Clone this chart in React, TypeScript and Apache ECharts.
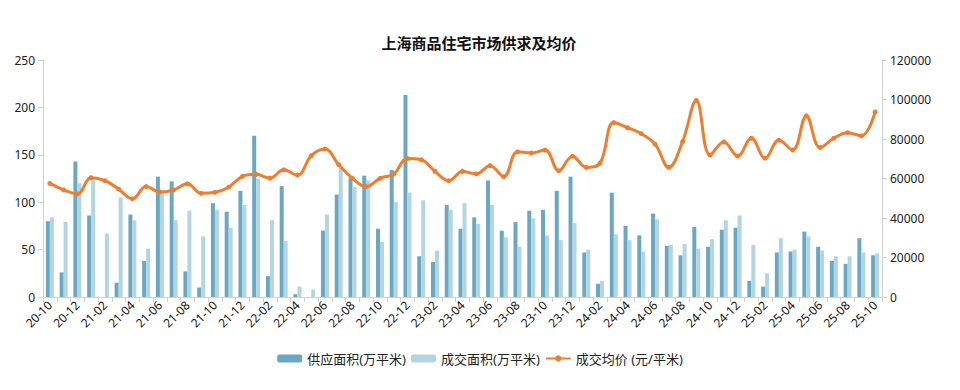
import React, { useEffect, useRef } from "react";
import * as echarts from "echarts";

const months: string[] = [];
for (let y = 20; y <= 25; y++) {
  for (let m = 1; m <= 12; m++) {
    if ((y === 20 && m < 10) || (y === 25 && m > 10)) continue;
    months.push(`${y}-${m < 10 ? "0" + m : m}`);
  }
}

const supply = [
  80, 26, 143, 86, 0, 15, 87, 38, 127, 122, 27, 10, 99, 90, 112, 170, 22, 117, 3, 0,
  70, 108, 126, 128, 72, 134, 213, 43, 37, 97, 72, 84, 123, 70, 79, 91, 92, 112, 127, 47,
  14, 110, 75, 65, 88, 54, 44, 74, 53, 71, 73, 17, 11, 47, 48, 69, 53, 38, 35, 62, 44,
];

const deal = [
  84, 79, 120, 123, 67, 105, 81, 51, 110, 81, 91, 64, 92, 73, 97, 125, 81, 59, 11, 8,
  87, 136, 116, 123, 58, 100, 110, 102, 49, 92, 99, 77, 97, 63, 53, 83, 65, 60, 78, 50,
  17, 66, 60, 48, 82, 55, 56, 51, 61, 81, 86, 55, 25, 62, 50, 64, 49, 43, 43, 47, 46,
];

const price = [
  57500, 54200, 52200, 60400, 58900, 54600, 49700, 55900, 53200, 54200, 57300, 52500, 53000, 55600, 61100, 62100, 60200, 64400, 61700, 71500,
  74900, 67000, 60100, 55900, 60100, 62300, 70100, 69500, 63600, 58900, 63600, 62300, 66500, 60900, 73500, 72900, 74400, 63900, 71300, 65600,
  67800, 88300, 85700, 82700, 77400, 65600, 78700, 99500, 71800, 78500, 71400, 80400, 70300, 79400, 74400, 91700, 75700, 80400, 83200, 81600, 93700,
];

const FONT = "'Noto Sans', 'Noto Sans CJK SC', sans-serif";

export default function App() {
  const ref = useRef<HTMLDivElement>(null);
  useEffect(() => {
    if (!ref.current) return;
    const chart = echarts.init(ref.current, null, { renderer: "svg" });
    const axisLine = { show: true, lineStyle: { color: "#d0d0d0" } };
    chart.setOption({
      animation: false,
      textStyle: { fontFamily: FONT },
      title: {
        text: "上海商品住宅市场供求及均价",
        left: 474,
        textAlign: "center",
        top: 30,
        textStyle: { fontSize: 15, fontWeight: "bold", color: "#111", fontFamily: FONT },
      },
      legend: {
        left: "center",
        top: 347,
        itemWidth: 25,
        itemHeight: 8,
        itemGap: 5,
        textStyle: { fontSize: 13, color: "#222", fontFamily: FONT },
        data: ["供应面积(万平米)", "成交面积(万平米)", "成交均价 (元/平米)"],
      },
      grid: { left: 43, right: 78, top: 60, bottom: 93, containLabel: false },
      xAxis: {
        type: "category",
        data: months,
        boundaryGap: true,
        axisLine,
        axisTick: { show: true, interval: 0, lineStyle: { color: "#d0d0d0" } },
        axisLabel: { interval: 1, rotate: 45, fontSize: 12, color: "#111", margin: 6 },
      },
      yAxis: [
        {
          type: "value",
          min: 0,
          max: 250,
          interval: 50,
          axisLine,
          axisTick: { show: true, lineStyle: { color: "#d0d0d0" } },
          splitLine: { show: false },
          axisLabel: { fontSize: 12, color: "#222" },
        },
        {
          type: "value",
          min: 0,
          max: 120000,
          interval: 20000,
          axisLine,
          axisTick: { show: true, lineStyle: { color: "#d0d0d0" } },
          splitLine: { show: false },
          axisLabel: { fontSize: 12, color: "#222", formatter: (v: number) => String(v) },
        },
      ],
      series: [
        {
          name: "供应面积(万平米)",
          type: "bar",
          data: supply,
          barWidth: 4,
          barGap: "0%",
          itemStyle: { color: "#6aa8c2" },
        },
        {
          name: "成交面积(万平米)",
          type: "bar",
          data: deal,
          barWidth: 4,
          barGap: "0%",
          itemStyle: { color: "#b3d5e1" },
        },
        {
          name: "成交均价 (元/平米)",
          type: "line",
          yAxisIndex: 1,
          data: price,
          smooth: 0.4,
          symbol: "circle",
          symbolSize: 5,
          lineStyle: { width: 3, color: "#ed7d31" },
          itemStyle: { color: "#ed7d31" },
        },
      ],
    });
    return () => chart.dispose();
  }, []);
  return <div ref={ref} style={{ width: 960, height: 390, margin: -8 }} />;
}
